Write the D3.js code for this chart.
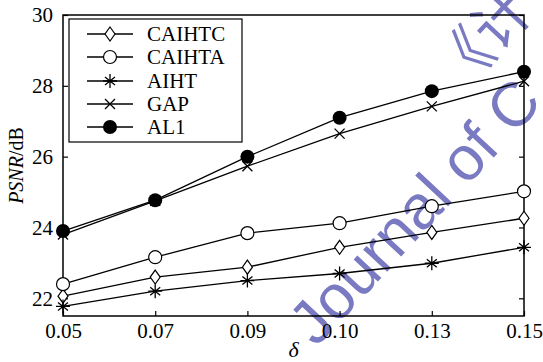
<!DOCTYPE html>
<html>
<head>
<meta charset="utf-8">
<script src="https://cdn.jsdelivr.net/npm/d3@7"></script>
<style>
  body { margin: 0; background: #fff; }
  text { font-family: "Liberation Serif", "Times New Roman", serif; }
  text.wm { font-family: "Liberation Sans", Arial, sans-serif; }
  text.wmcjk { font-family: "Noto Sans CJK SC", sans-serif; }
</style>
</head>
<body>
<div id="chart"></div>
<script>
// data
const deltas = ["0.05", "0.07", "0.09", "0.10", "0.13", "0.15"];
const caihtc = [22.06, 22.6, 22.88, 23.44, 23.86, 24.26];
const caihta = [22.4, 23.16, 23.84, 24.12, 24.6, 25.02];
const aiht = [21.77, 22.2, 22.5, 22.7, 22.99, 23.44];
const gap = [23.8, 24.75, 25.73, 26.65, 27.42, 28.13];
const al1 = [23.9, 24.77, 26.0, 27.1, 27.85, 28.4];
const yTicks = [22, 24, 26, 28, 30];

const series = [
  { name: "CAIHTC", values: caihtc, marker: "diamond" },
  { name: "CAIHTA", values: caihta, marker: "circle" },
  { name: "AIHT", values: aiht, marker: "star" },
  { name: "GAP", values: gap, marker: "cross" },
  { name: "AL1", values: al1, marker: "dot" }
];

const W = 543, H = 362;
const margin = { top: 15, right: 19, bottom: 46, left: 63 };
const width = W - margin.left - margin.right;
const height = H - margin.top - margin.bottom;

const svg = d3.select("#chart").append("svg")
  .attr("width", W).attr("height", H);

// watermark behind the chart
const wm = svg.append("g").attr("fill", "#7a7ac2");
wm.append("text").attr("class", "wm")
  .attr("transform", "translate(316,348) rotate(-47)")
  .style("font-size", "62px")
  .text("Journal of C");
wm.append("text").attr("class", "wmcjk")
  .attr("transform", "translate(458,96) rotate(-47)")
  .style("font-size", "58px")
  .text("《计");

const g = svg.append("g")
  .attr("transform", `translate(${margin.left},${margin.top})`);

const x = d3.scalePoint().domain(deltas).range([0, width]);
const y = d3.scaleLinear().domain([21.5, 30]).range([height, 0]);

// frame
g.append("rect")
  .attr("width", width).attr("height", height)
  .attr("fill", "none").attr("stroke", "#000").attr("stroke-width", 1.5);

// axes with inward ticks
const xAxis = g.append("g")
  .attr("transform", `translate(0,${height})`)
  .call(d3.axisBottom(x).tickSizeInner(-5).tickSizeOuter(0).tickPadding(7));
const yAxis = g.append("g")
  .call(d3.axisLeft(y).tickValues(yTicks).tickSizeInner(-5).tickSizeOuter(0).tickPadding(10));
const yAxisR = g.append("g")
  .attr("transform", `translate(${width},0)`)
  .call(d3.axisRight(y).tickValues(yTicks).tickSizeInner(-5).tickSizeOuter(0).tickFormat(""));

[xAxis, yAxis, yAxisR].forEach(a => {
  a.select(".domain").remove();
  a.selectAll("line").attr("stroke", "#000").attr("stroke-width", 1.2);
  a.selectAll("text").attr("fill", "#000")
    .attr("font-family", null)
    .style("font-size", "21px");
});

// marker drawing
function drawMarker(sel, type) {
  if (type === "diamond") {
    sel.append("path").attr("d", "M0,-7L5,0L0,7L-5,0Z")
      .attr("fill", "#fff").attr("stroke", "#000").attr("stroke-width", 1.2);
  } else if (type === "circle") {
    sel.append("circle").attr("r", 6.5)
      .attr("fill", "#fff").attr("stroke", "#000").attr("stroke-width", 1.2);
  } else if (type === "dot") {
    sel.append("circle").attr("r", 7).attr("fill", "#000");
  } else if (type === "cross") {
    sel.append("path").attr("d", "M-5,-5L5,5M-5,5L5,-5")
      .attr("stroke", "#000").attr("stroke-width", 1.3);
  } else if (type === "star") {
    sel.append("path").attr("d", "M0,-7L0,7M-7,0L7,0M-5,-4L5,4M-5,4L5,-4")
      .attr("stroke", "#000").attr("stroke-width", 1.3);
  }
}

const line = d3.line()
  .x((d, i) => x(deltas[i]))
  .y(d => y(d));

series.forEach(s => {
  g.append("path")
    .datum(s.values)
    .attr("d", line)
    .attr("fill", "none")
    .attr("stroke", "#000")
    .attr("stroke-width", 1.3);
  s.values.forEach((v, i) => {
    const m = g.append("g").attr("transform", `translate(${x(deltas[i])},${y(v)})`);
    drawMarker(m, s.marker);
  });
});

// legend
const legend = svg.append("g").attr("transform", "translate(69,19)");
legend.append("rect")
  .attr("width", 173).attr("height", 123)
  .attr("fill", "#fff").attr("stroke", "#000").attr("stroke-width", 1.2);
const rowY = [15, 38, 62, 85, 108];
series.forEach((s, i) => {
  const row = legend.append("g").attr("transform", `translate(0,${rowY[i]})`);
  row.append("line").attr("x1", 18).attr("x2", 64)
    .attr("stroke", "#000").attr("stroke-width", 1.3);
  drawMarker(row.append("g").attr("transform", "translate(41,0)"), s.marker);
  row.append("text").attr("x", 78).attr("dy", "0.35em")
    .style("font-size", "21px").text(s.name);
});

// axis titles
svg.append("text")
  .attr("transform", `translate(23,${margin.top + height / 2}) rotate(-90)`)
  .attr("text-anchor", "middle")
  .style("font-size", "20px")
  .call(t => {
    t.append("tspan").style("font-style", "italic").text("PSNR");
    t.append("tspan").text("/dB");
  });
svg.append("text")
  .attr("x", margin.left + width / 2).attr("y", 357)
  .attr("text-anchor", "middle")
  .style("font-size", "22px").style("font-style", "italic")
  .text("δ");
</script>
</body>
</html>
